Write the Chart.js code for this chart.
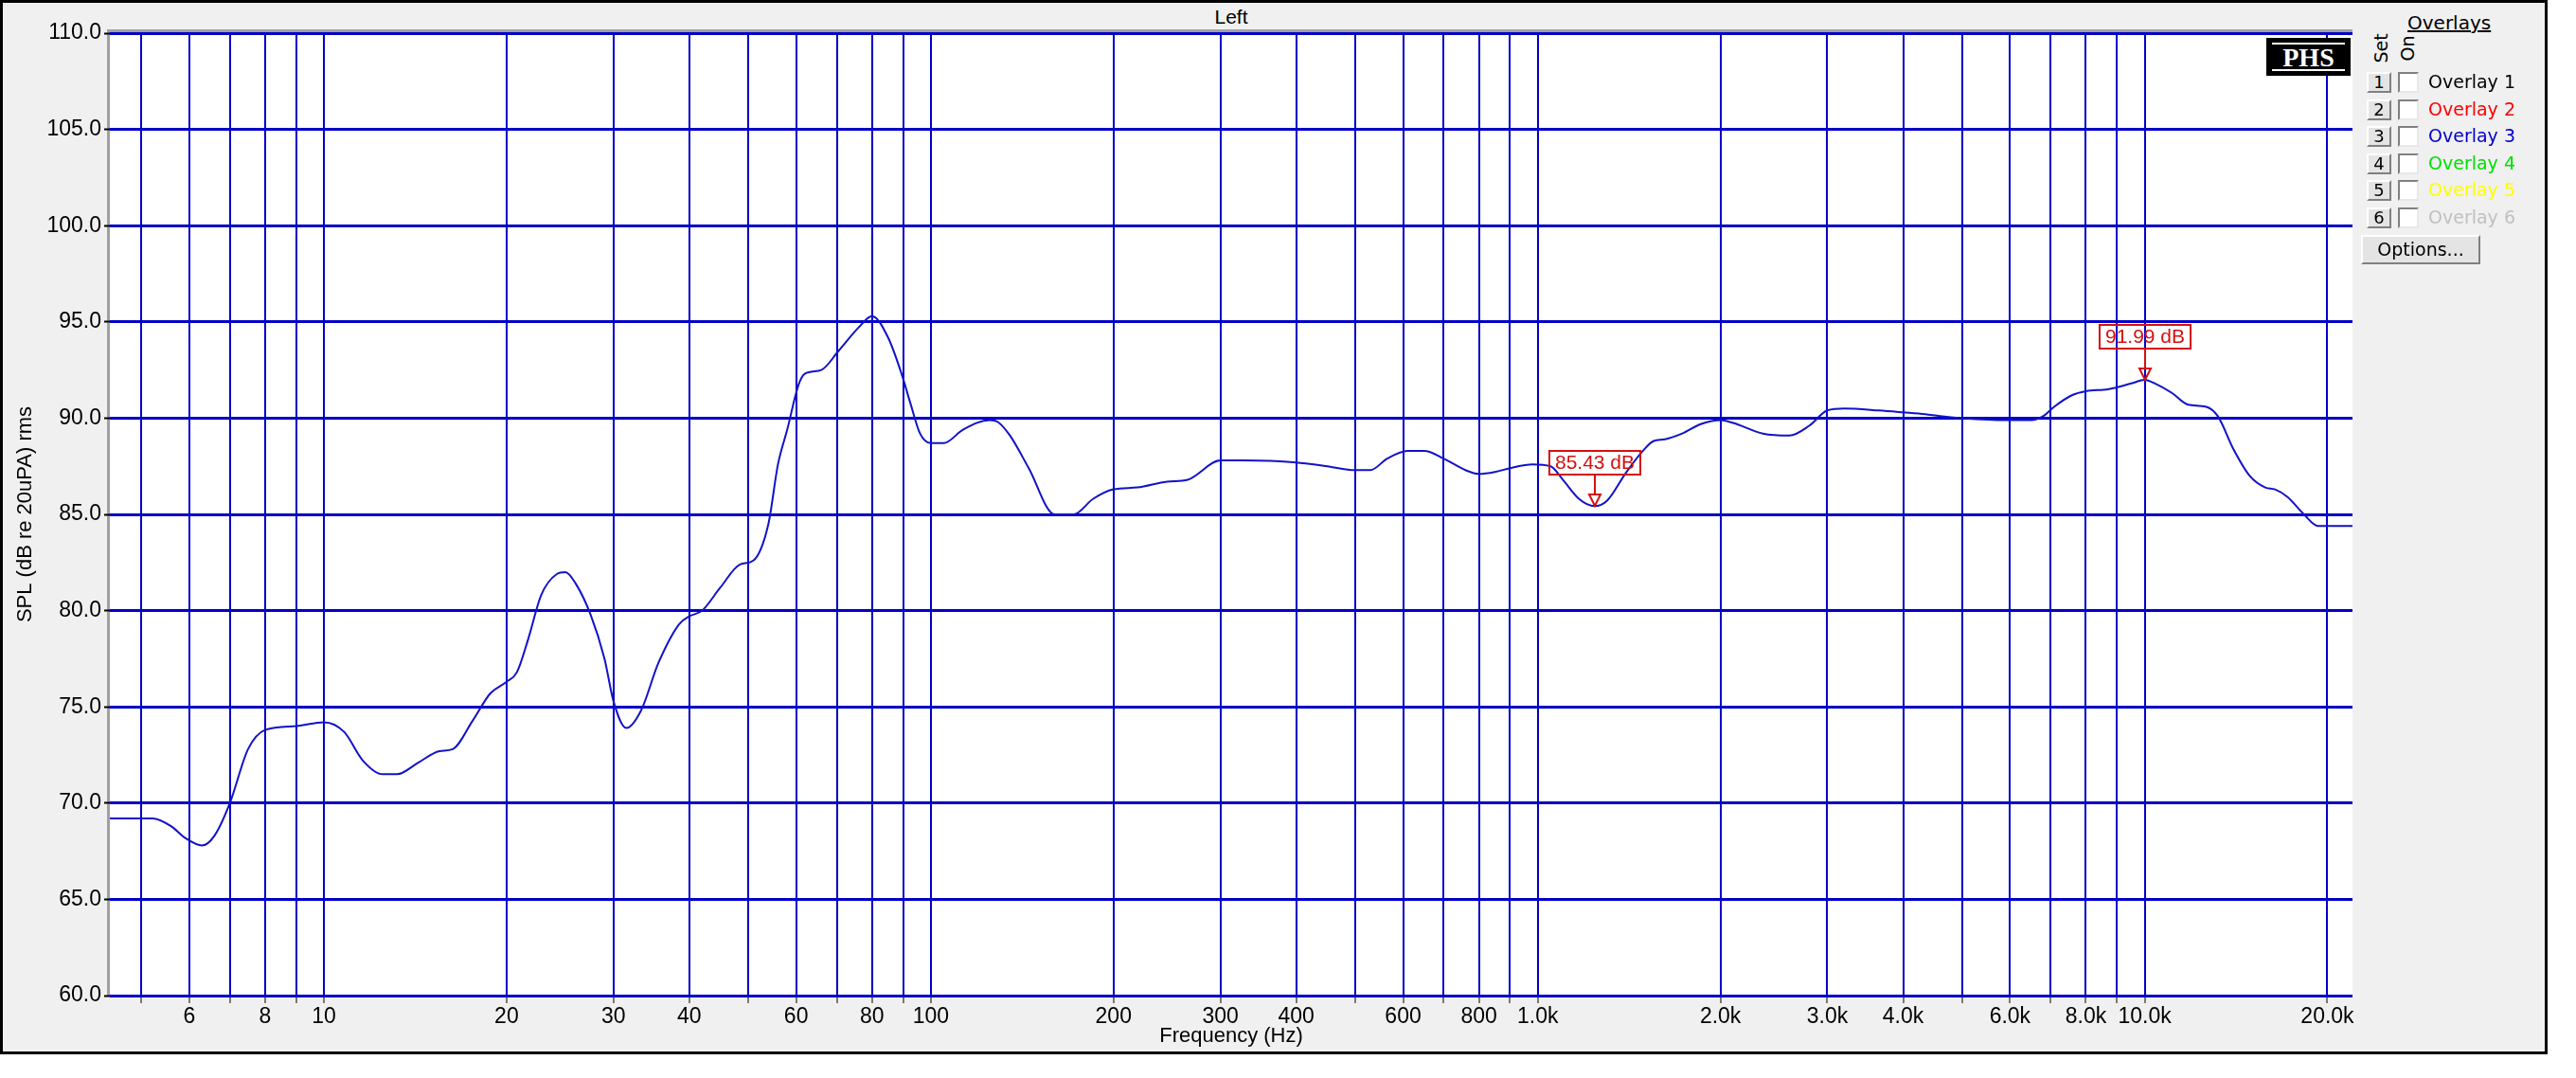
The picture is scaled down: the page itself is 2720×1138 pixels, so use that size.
<!DOCTYPE html>
<html>
<head>
<meta charset="utf-8">
<script src="https://cdn.jsdelivr.net/npm/chart.js@4.4.1/dist/chart.umd.min.js"></script>
<style>
  body { margin: 0; background: #fff; width: 2720px; height: 1138px; overflow: hidden; position: relative; }
  #frame { position: absolute; left: 0; top: 0; width: 2690px; height: 1113px; box-sizing: border-box; border: 3px solid #000; background: #f0f0f0; }
  #chartBox { position: absolute; left: 0; top: 0; width: 2490px; height: 1112px; }
  #title { position: absolute; left: 1250px; width: 100px; top: 6px; text-align: center; font: 21px "Liberation Sans", Arial, sans-serif; color: #000; }
  #logo { position: absolute; left: 2393px; top: 40px; width: 89px; height: 40px; background: #000; }
  #logo span { position: absolute; left: 6px; right: 6px; top: 5px; bottom: 5px; border-top: 2px solid #fff; border-bottom: 2px solid #fff; color: #fff; font: bold 28px "Liberation Serif", serif; text-align: center; line-height: 27px; }
  .panel { position: absolute; font: 19px "DejaVu Sans", sans-serif; color: #000; white-space: nowrap; }
  .rot { position: absolute; transform: rotate(-90deg); transform-origin: center; font: 19px "DejaVu Sans", sans-serif; }
  .btn { position: absolute; width: 26px; height: 22px; box-sizing: border-box; background: #e4e4e4; border-top: 2px solid #fff; border-left: 2px solid #fff; border-right: 2px solid #808080; border-bottom: 2px solid #808080; font: 18px "DejaVu Sans", sans-serif; text-align: center; line-height: 18px; }
  .chk { position: absolute; width: 22px; height: 22px; box-sizing: border-box; background: #fff; border-top: 2px solid #808080; border-left: 2px solid #808080; border-right: 2px solid #e8e8e8; border-bottom: 2px solid #e8e8e8; }
</style>
</head>
<body>
<div id="frame"></div>
<div id="title">Left</div>
<div id="chartBox"><canvas id="splChart" width="2490" height="1112"></canvas></div>
<div id="logo"><span>PHS</span></div>
<div id="overlayPanel"></div>
<script>
// Frequency response (Hz / dB SPL)
const freqs = [4.44, 5.0, 5.22, 5.6, 5.9, 6.3, 6.6, 7.0, 7.5, 8.0, 9.0, 10, 10.8, 11.6, 12.5, 13.2, 14.3, 15.5, 16.3, 17.6, 18.8,
  20, 20.8, 21.7, 22.8, 24.2, 25, 26, 27.5, 29, 30, 31.5, 33.3, 35.6, 38.5, 40, 42, 45, 48.5, 51, 54, 56, 58, 60.5, 62, 66,
  70.5, 76, 80, 85, 89.5, 92.5, 96, 100, 105, 113, 125, 129, 135, 145, 160, 172, 185, 200, 219, 245, 265, 300, 327, 400,
  450, 500, 530, 565, 610, 650, 700, 760, 800, 850, 900, 980, 1050, 1100, 1170, 1240, 1300, 1400, 1500, 1550, 1620, 1730,
  1860, 2000, 2100, 2350, 2600, 2800, 3000, 3200, 3650, 4000, 4350, 4600, 5000, 5900, 6500, 6800, 7100, 7600, 8000, 8700,
  9500, 10000, 10400, 11100, 11800, 12600, 13200, 14000, 14900, 15800, 16400, 17200, 18300, 19300, 22000];
const spl = [69.2, 69.2, 69.2, 68.8, 68.2, 67.8, 68.3, 70.0, 72.8, 73.8, 74.0, 74.2, 73.7, 72.2, 71.5, 71.5, 72.1, 72.7, 72.8, 74.3, 75.7,
  76.3, 76.8, 78.5, 80.8, 81.9, 82.0, 81.4, 79.8, 77.5, 75.3, 73.9, 74.8, 77.3, 79.3, 79.7, 80.0, 81.2, 82.4, 82.6, 84.5, 87.6, 89.4, 91.7, 92.3, 92.5,
  93.5, 94.7, 95.3, 94.2, 92.3, 90.8, 89.2, 88.7, 88.7, 89.4, 89.9, 89.8, 89.1, 87.4, 85.0, 85.0, 85.8, 86.3, 86.4, 86.7, 86.8, 87.8, 87.8, 87.7,
  87.5, 87.3, 87.3, 87.9, 88.3, 88.3, 87.9, 87.3, 87.1, 87.2, 87.4, 87.6, 87.5, 86.8, 85.8, 85.43, 85.7, 87.2, 88.4, 88.8, 88.9, 89.2,
  89.7, 89.9, 89.75, 89.2, 89.1, 89.6, 90.4, 90.5, 90.4, 90.3, 90.2, 90.1, 90.0, 89.9, 89.9, 90.1, 90.6, 91.2, 91.4, 91.5,
  91.8, 91.99, 91.8, 91.3, 90.7, 90.6, 90.1, 88.4, 87.0, 86.4, 86.3, 85.9, 85.0, 84.4, 84.4];

// Axis ticks
const gridFreqs = [5, 6, 7, 8, 9, 10, 20, 30, 40, 50, 60, 70, 80, 90, 100, 200, 300, 400, 500, 600, 700, 800, 900,
  1000, 2000, 3000, 4000, 5000, 6000, 7000, 8000, 9000, 10000, 20000];
const labelFreqs = [6, 8, 10, 20, 30, 40, 60, 80, 100, 200, 300, 400, 600, 800, 1000, 2000, 3000, 4000, 6000, 8000, 10000, 20000];
const dbTicks = [60, 65, 70, 75, 80, 85, 90, 95, 100, 105, 110];

// Min / max markers
const markerFreqs = [1240, 10000];
const markerValues = [85.43, 91.99];

// Overlay list on the right
const overlayNames = ['Overlay 1', 'Overlay 2', 'Overlay 3', 'Overlay 4', 'Overlay 5', 'Overlay 6'];
const overlayColors = ['#000000', '#ff0000', '#0000cc', '#00e000', '#ffff00', '#c0c0c0'];

const BLUE = '#0000c8';
const RED = '#d41010';
const tickFont = { family: '"Liberation Sans Narrow", "Liberation Sans", sans-serif', size: 23 };

function freqLabel(f) {
  return f >= 1000 ? (f / 1000).toFixed(1) + 'k' : String(f);
}

// white plot area and the grey sunken edge
const plotFrame = {
  id: 'plotFrame',
  beforeDraw(chart) {
    const a = chart.chartArea, c = chart.ctx;
    c.save();
    c.fillStyle = '#fff';
    c.fillRect(a.left, a.top, a.right - a.left, a.bottom - a.top);
    c.fillStyle = '#a0a0a0';
    c.fillRect(a.left - 3, a.top - 4, a.right - a.left + 3, 3);
    c.fillRect(a.left - 3, a.top - 4, 3, a.bottom - a.top + 4);
    c.restore();
  }
};

// value markers: box with text, stem and hollow triangle
const valueMarkers = {
  id: 'valueMarkers',
  afterDatasetsDraw(chart) {
    const c = chart.ctx, xs = chart.scales.x, ys = chart.scales.y;
    c.save();
    c.strokeStyle = RED;
    c.fillStyle = RED;
    c.lineWidth = 2;
    c.font = '21px "Liberation Sans", Arial, sans-serif';
    c.textAlign = 'center';
    c.textBaseline = 'middle';
    markerFreqs.forEach((f, i) => {
      const px = Math.round(xs.getPixelForValue(f));
      const py = Math.round(ys.getPixelForValue(markerValues[i]));
      const txt = markerValues[i].toFixed(2) + ' dB';
      const w = c.measureText(txt).width + 12;
      const h = 25;
      const boxBottom = py - 33;
      c.strokeRect(px - w / 2, boxBottom - h, w, h);
      c.fillText(txt, px, boxBottom - h / 2 + 1);
      c.beginPath();
      c.moveTo(px, boxBottom);
      c.lineTo(px, py - 12);
      c.stroke();
      c.beginPath();
      c.moveTo(px - 6, py - 12);
      c.lineTo(px + 6, py - 12);
      c.lineTo(px, py);
      c.closePath();
      c.stroke();
    });
    c.restore();
  }
};

const ctx = document.getElementById('splChart').getContext('2d');
const chart = new Chart(ctx, {
  type: 'line',
  data: {
    datasets: [{
      data: freqs.map((f, i) => ({ x: f, y: spl[i] })),
      borderColor: '#1212c8',
      borderWidth: 2,
      pointRadius: 0,
      fill: false,
      cubicInterpolationMode: 'monotone'
    }]
  },
  options: {
    responsive: false,
    animation: false,
    layout: { padding: { top: 35, right: 6, left: 0, bottom: 0 } },
    plugins: { legend: { display: false }, tooltip: { enabled: false }, title: { display: false } },
    scales: {
      x: {
        type: 'logarithmic',
        min: 4.44,
        max: 22000,
        afterBuildTicks: s => { s.ticks = gridFreqs.map(v => ({ value: v })); },
        afterFit: s => { s.height = 61; },
        border: { display: false },
        grid: { color: BLUE, lineWidth: 2, tickColor: '#000', tickLength: 8, tickWidth: 1 },
        ticks: {
          autoSkip: false, maxRotation: 0, minRotation: 0, padding: 1, color: '#000', font: tickFont,
          callback: v => labelFreqs.includes(v) ? freqLabel(v) : ''
        },
        title: { display: true, text: 'Frequency (Hz)', color: '#000', font: { family: tickFont.family, size: 22 }, padding: { top: 0, bottom: 5 } }
      },
      y: {
        min: 60,
        max: 110,
        afterBuildTicks: s => { s.ticks = dbTicks.map(v => ({ value: v })); },
        afterFit: s => { s.width = 116; },
        border: { display: false },
        grid: { color: BLUE, lineWidth: 3, tickColor: '#000', tickLength: 6, tickWidth: 2 },
        ticks: { padding: 3, color: '#000', font: tickFont, callback: v => v.toFixed(1) },
        title: { display: true, text: 'SPL (dB re 20uPA) rms', color: '#000', font: { family: tickFont.family, size: 22 }, padding: { top: 14, bottom: 0 } }
      }
    }
  },
  plugins: [plotFrame, valueMarkers]
});

// Overlays panel
const panel = document.getElementById('overlayPanel');
let html = '<div class="panel" style="left:2542px;top:12px;text-decoration:underline;font-size:20px">Overlays</div>';
html += '<div class="rot" style="left:2496px;top:40px;width:36px;text-align:center">Set</div>';
html += '<div class="rot" style="left:2527px;top:40px;width:30px;text-align:center">On</div>';
overlayNames.forEach((name, i) => {
  const top = 76 + i * 28.6;
  html += '<div class="btn" style="left:2499px;top:' + top + 'px">' + (i + 1) + '</div>';
  html += '<div class="chk" style="left:2532px;top:' + top + 'px"></div>';
  html += '<div class="panel" style="left:2564px;top:' + (top - 1) + 'px;color:' + overlayColors[i] + '">' + name + '</div>';
});
html += '<div class="btn" style="left:2493px;top:248px;width:126px;height:31px;line-height:26px;font-size:19px">Options...</div>';
panel.innerHTML = html;
</script>
</body>
</html>
